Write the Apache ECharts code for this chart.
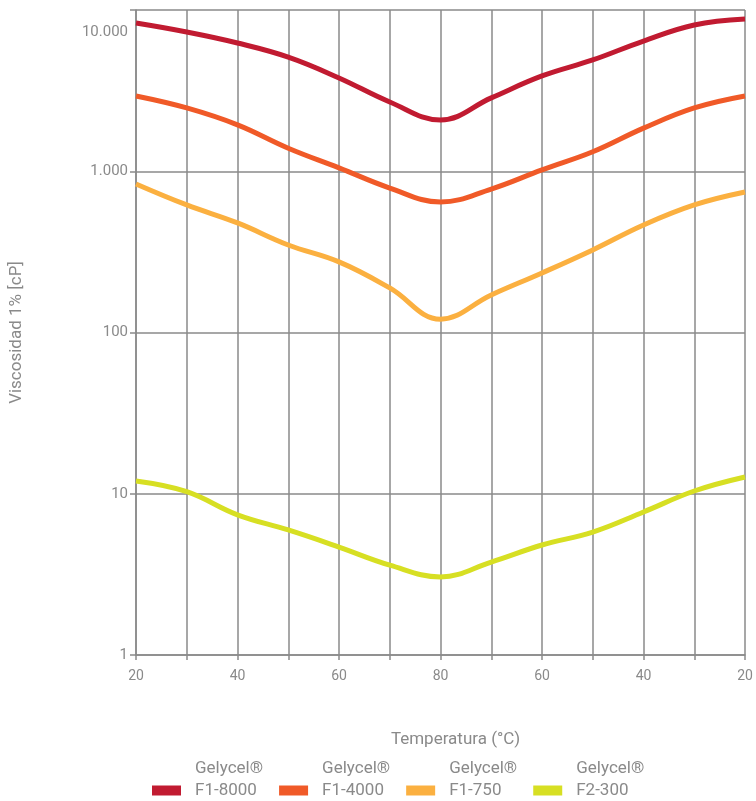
<!DOCTYPE html>
<html>
<head>
<meta charset="utf-8">
<script src="https://cdn.jsdelivr.net/npm/echarts@6/dist/echarts.min.js"></script>
<style>
  html, body { margin: 0; padding: 0; background: #fff; }
  #chart { width: 756px; height: 801px; }
</style>
</head>
<body>
<div id="chart"></div>
<script>
// temperaturas: sube de 20 a 80 y vuelve a bajar a 20
var temperaturas = ['20', '30', '40', '50', '60', '70', '80', '70', '60', '50', '40', '30', '20'];

var f1_8000 = [8300, 7300, 6240, 5100, 3790, 2690, 2080, 2850, 3900, 4900, 6420, 8070, 8790];
var f1_4000 = [2930, 2470, 1940, 1390, 1050, 787, 645, 776, 1020, 1320, 1850, 2470, 2930];
var f1_750 = [834, 618, 478, 349, 274, 189, 121, 171, 234, 325, 464, 618, 743];
var f2_300 = [12.0, 10.3, 7.4, 5.96, 4.67, 3.61, 3.05, 3.77, 4.81, 5.79, 7.71, 10.4, 12.7];

var nombres = ['F1-8000', 'F1-4000', 'F1-750', 'F2-300'];
var colores = ['#c11b31', '#f05a28', '#fbb040', '#d7df23'];
var datos = [f1_8000, f1_4000, f1_750, f2_300];

var gris = '#8a8a8a';
var fuente = 'Roboto, "DejaVu Sans", sans-serif';

var series = [];
for (var i = 0; i < nombres.length; i++) {
    series.push({
        name: nombres[i],
        type: 'line',
        smooth: 0.4,
        symbol: 'none',
        data: datos[i],
        lineStyle: { color: colores[i], width: 5 },
        itemStyle: { color: colores[i] }
    });
}

var myChart = echarts.init(document.getElementById('chart'));
var option = {
    animation: false,
    backgroundColor: '#fff',
    textStyle: { fontFamily: fuente },
    grid: { left: 131, right: 11, top: 10, bottom: 146 },
    legend: {
        left: 152,
        top: 760,
        padding: 0,
        itemWidth: 29,
        itemHeight: 10,
        itemGap: 16,
        icon: 'rect',
        data: nombres,
        formatter: function (name) {
            return '{a|Gelycel®}\n{a|' + name + '}\n{a| }';
        },
        textStyle: {
            color: gris,
            fontFamily: fuente,
            fontSize: 17,
            rich: {
                a: { fontSize: 17, lineHeight: 22, color: gris, fontFamily: fuente, padding: [0, 0, 0, 9] }
            }
        }
    },
    xAxis: {
        type: 'category',
        boundaryGap: false,
        data: temperaturas,
        name: 'Temperatura (°C)',
        nameLocation: 'middle',
        nameGap: 76,
        nameTextStyle: { color: gris, fontSize: 17, padding: [0, 0, 0, 30] },
        axisLine: { lineStyle: { color: gris, width: 1.5 } },
        axisTick: { show: true, interval: 0, length: 5, lineStyle: { color: gris, width: 1.5 } },
        axisLabel: { interval: 1, color: gris, fontSize: 14, margin: 14 },
        splitLine: { show: true, interval: 0, lineStyle: { color: gris, width: 1.5 } }
    },
    yAxis: {
        type: 'log',
        logBase: 10,
        min: 1,
        max: 10000,
        name: 'Viscosidad 1% [cP]',
        nameLocation: 'middle',
        nameGap: 111,
        nameTextStyle: { color: gris, fontSize: 17 },
        axisLine: { show: true, lineStyle: { color: gris, width: 1.5 } },
        axisTick: { show: true, length: 6, lineStyle: { color: gris, width: 1.5 } },
        axisLabel: {
            color: gris,
            fontSize: 15,
            margin: 8,
            formatter: function (v) {
                if (v >= 10000) return '{t|10.000}';
                if (v >= 1000) return '1.000';
                return String(v);
            },
            rich: {
                t: { color: gris, fontSize: 15, padding: [44, 0, 0, 0] }
            }
        },
        splitLine: { show: true, lineStyle: { color: gris, width: 1.5 } }
    },
    series: series
};
myChart.setOption(option);
</script>
</body>
</html>
